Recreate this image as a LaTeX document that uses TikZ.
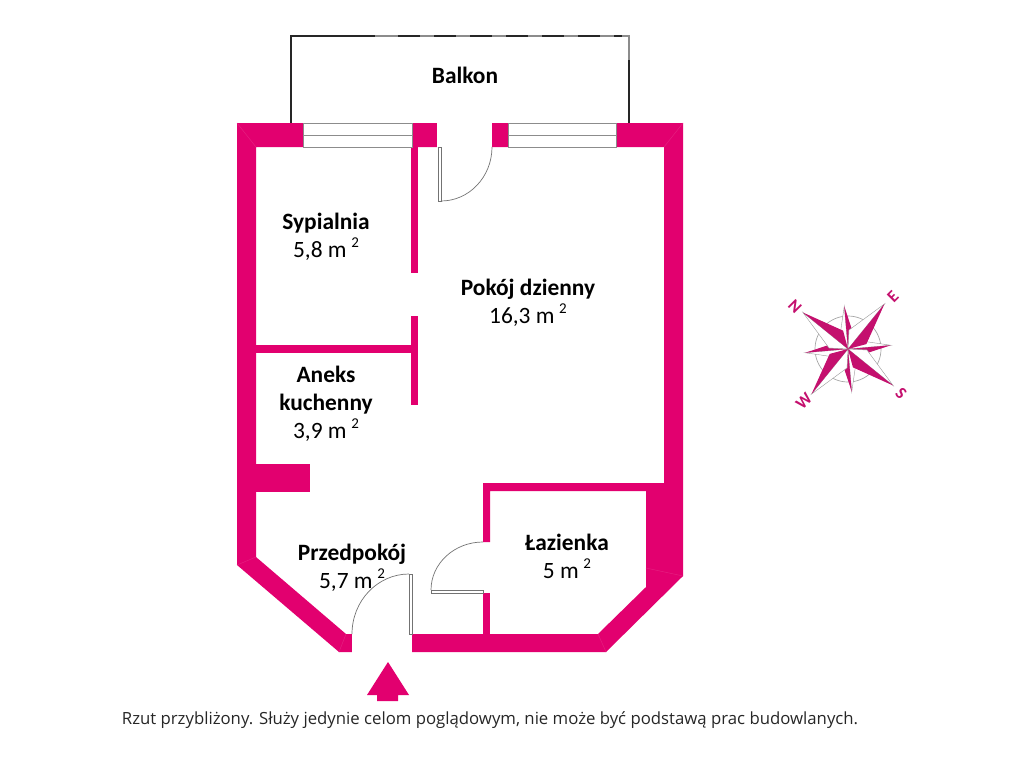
\documentclass[tikz,border=0pt]{standalone}
\usepackage{fontspec}
\setmainfont{Carlito}
\newfontfamily\notefont{Open Sans}
\usetikzlibrary{calc}
\definecolor{wallpink}{HTML}{E2006F}
\definecolor{starpink}{HTML}{C4106E}
\newcommand{\sqm}{ m\hspace{.2em}\raisebox{.42em}{\fontsize{15}{15}\selectfont 2}}
\begin{document}
\begin{tikzpicture}[
x=1pt, y=-1pt,
wall/.style={fill=wallpink, draw=none},
seam/.style={draw=wallpink!88!white, line width=.5pt},
pane/.style={draw=black!45, line width=.9pt, fill=white},
leaf/.style={draw=black!55, line width=.7pt, fill=white},
room/.style={font=\fontsize{23.4}{28}\selectfont, align=center, text=black},
points/.style={font=\fontsize{17}{17}\selectfont\bfseries, text=starpink}
]
\useasboundingbox (0,0) rectangle (1024,768);
% balcony
\draw[line width=1.6pt, black!85] (291,123) -- (291,36) -- (375,36);
\draw[line width=1.2pt, black!45] (375,36) -- (629,36) -- (629,60);
\draw[line width=1.6pt, black!85, dash pattern=on 22pt off 14pt] (398,36) -- (622,36);
\draw[line width=1.4pt, black!85] (629,60) -- (629,123);
% outer walls
\fill[wall] (237,123) -- (683,123) -- (683,576) -- (606,652) -- (412,652) -- (412,634)
	-- (598,634) -- (646,587) -- (646,491) -- (490,491) -- (490,542) -- (483,542)
	-- (483,483) -- (664,483) -- (664,147) -- (256,147) -- (256,557) -- (346,634)
	-- (352,634) -- (352,652) -- (339,652) -- (237,565) -- cycle;
% inner walls
\fill[wall] (411,147) rectangle (418,273);
\fill[wall] (411,316) rectangle (418,405);
\fill[wall] (256,345) rectangle (411,353);
\fill[wall] (256,464) rectangle (310,492);
\fill[wall] (483,593) rectangle (490,634);
% seams at the corners
\draw[seam] (237,123) -- (256,147);
\draw[seam] (683,123) -- (664,147);
\draw[seam] (237,565) -- (256,557);
\draw[seam] (339,652) -- (346,634);
\draw[seam] (606,652) -- (598,634);
\draw[seam] (683,576) -- (646,568);
% windows
\foreach \l/\r in {303/412, 508/616}
{
	\fill[white] (\l,122) rectangle (\r,147);
	\draw[pane] (\l,123) rectangle (\r,147);
	\draw[pane] (\l,135) -- (\r,135);
}
% door gaps
\fill[white] (437,122) rectangle (492,148);
\fill[white] (352,634) rectangle (412,653);
% doors
\draw[leaf] (438,147) rectangle (441,201);
\draw[leaf, fill=none] (492,147) arc[start angle=0, end angle=-90, x radius=51pt, y radius=54pt];
\draw[leaf] (409,574) rectangle (412,634);
\draw[leaf, fill=none] (409,574) arc[start angle=90, end angle=180, x radius=57pt, y radius=60pt];
\draw[leaf] (431,590) rectangle (483,593);
\draw[leaf, fill=none] (431,590) arc[start angle=180, end angle=90, x radius=52pt, y radius=48pt];
% entrance arrow
\fill[wall] (388,662) -- (409,695) -- (398,695) -- (398,701) -- (377,701) -- (377,695) -- (367,695) -- cycle;
% compass
\draw[black!35, line width=.7pt] (848,349) circle (33pt);
\foreach \ang/\len in {-5/43, 85/43, 175/43, 265/43}
{
	\draw[black!40, line width=.4pt, fill=white] (848,349) -- ($(848,349)+(\ang:\len)$) -- ($(848,349)+(\ang-18:19)$) -- cycle;
	\fill[starpink] (848,349) -- ($(848,349)+(\ang:\len)$) -- ($(848,349)+(\ang+18:19)$) -- cycle;
}
\foreach \ang/\len in {39/58, 129/58, 219/58, 309/58}
{
	\draw[black!40, line width=.4pt, fill=white] (848,349) -- ($(848,349)+(\ang:\len)$) -- ($(848,349)+(\ang-36:19)$) -- cycle;
	\fill[starpink] (848,349) -- ($(848,349)+(\ang:\len)$) -- ($(848,349)+(\ang+36:19)$) -- cycle;
}
\node[points, rotate=-45] (north) at (795,307) {N};
\node[points, rotate=45] (east) at (893,297) {E};
\node[points, rotate=-45] (south) at (901,393) {S};
\node[points, rotate=45] (west) at (804,401) {W};
% labels
\node[room] (balkon) at (465,75) {\textbf{Balkon}};
\node[room] (sypialnia) at (326,237) {\textbf{Sypialnia}\\5,8\sqm};
\node[room] (pokoj) at (528,303) {\textbf{Pokój dzienny}\\16,3\sqm};
\node[room] (aneks) at (326,404) {\textbf{Aneks}\\\textbf{kuchenny}\\3,9\sqm};
\node[room] (przedpokoj) at (352,568) {\textbf{Przedpokój}\\5,7\sqm};
\node[room] (lazienka) at (567,556) {\textbf{Łazienka}\\5\sqm};
\node[font=\fontsize{16.75}{18}\selectfont\notefont, text=black!85] (note) at (490,720) {Rzut przybliżony. Służy jedynie celom poglądowym, nie może być podstawą prac budowlanych.};
\end{tikzpicture}
\end{document}
